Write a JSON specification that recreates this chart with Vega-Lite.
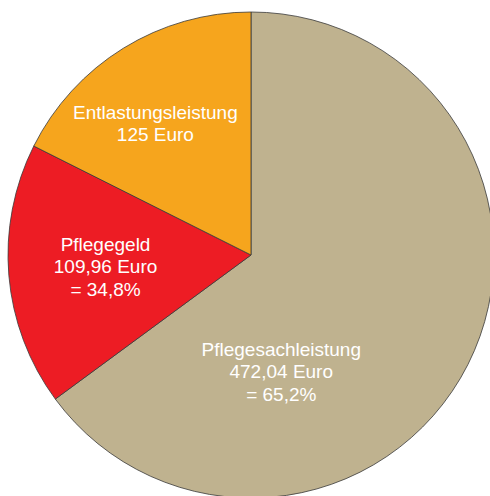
{
  "$schema": "https://vega.github.io/schema/vega-lite/v6.json",
  "autosize": "none",
  "width": 478,
  "height": 482,
  "padding": {"left": 12, "top": 14, "right": 0, "bottom": 0},
  "background": "white",
  "view": {"stroke": null},
  "data": {
    "values": [
      {"name": "Pflegesachleistung", "share": 64.9, "label": "Pflegesachleistung\n472,04 Euro\n= 65,2%"},
      {"name": "Pflegegeld", "share": 17.5, "label": "Pflegegeld\n109,96 Euro\n= 34,8%"},
      {"name": "Entlastungsleistung", "share": 17.6, "label": "Entlastungsleistung\n125 Euro"}
    ]
  },
  "encoding": {
    "theta": {"field": "share", "type": "quantitative", "stack": true},
    "order": {"field": "name", "sort": "descending"}
  },
  "layer": [
    {
      "mark": {"type": "arc", "outerRadius": 243, "stroke": "#3a3a3a", "strokeWidth": 0.8},
      "encoding": {
        "color": {
          "field": "name",
          "type": "nominal",
          "scale": {"domain": ["Pflegesachleistung", "Pflegegeld", "Entlastungsleistung"], "range": ["#BFB28F", "#ED1C24", "#F6A51D"]},
          "legend": null
        }
      }
    },
    {
      "mark": {"type": "text", "radius": 121, "thetaOffset": 0.85, "dy": -22.5, "lineBreak": "\n", "font": "Liberation Sans", "fontSize": 19, "lineHeight": 22.5, "color": "white", "align": "center", "baseline": "middle"},
      "encoding": {
        "text": {"condition": {"test": "datum.name === 'Pflegesachleistung'", "field": "label"}, "value": ""}
      }
    },
    {
      "mark": {"type": "text", "radius": 146, "dy": -22.5, "lineBreak": "\n", "font": "Liberation Sans", "fontSize": 19, "lineHeight": 22.5, "color": "white", "align": "center", "baseline": "middle"},
      "encoding": {
        "text": {"condition": {"test": "datum.name === 'Pflegegeld'", "field": "label"}, "value": ""}
      }
    },
    {
      "mark": {"type": "text", "radius": 162, "thetaOffset": -0.0785, "dy": -11.25, "lineBreak": "\n", "font": "Liberation Sans", "fontSize": 19, "lineHeight": 22.5, "color": "white", "align": "center", "baseline": "middle"},
      "encoding": {
        "text": {"condition": {"test": "datum.name === 'Entlastungsleistung'", "field": "label"}, "value": ""}
      }
    }
  ]
}
